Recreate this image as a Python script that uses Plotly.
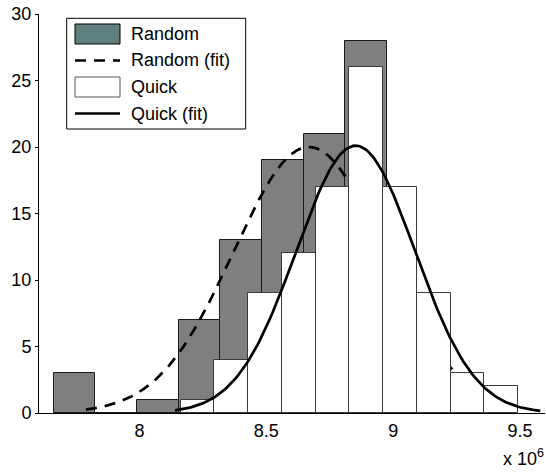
import numpy as np
import plotly.graph_objects as go

# ---- data (x in units of 1e6) ----
random_centers = [7.744, 7.908, 8.072, 8.237, 8.401, 8.565, 8.730, 8.894, 9.058, 9.223]
random_counts = [3, 0, 1, 7, 13, 19, 21, 28, 6, 2]
random_binwidth = 0.1643

quick_centers = [8.229, 8.362, 8.495, 8.628, 8.761, 8.894, 9.027, 9.160, 9.293, 9.426]
quick_counts = [1, 4, 9, 12, 17, 26, 17, 9, 3, 2]
quick_binwidth = 0.1331

# normal fit parameters (mean, sigma, peak height, plotted x-span)
random_fit = dict(mu=8.668, sigma=0.297, peak=20.0, x0=7.789, x1=9.233)
quick_fit = dict(mu=8.852, sigma=0.234, peak=20.1, x0=8.14, x1=9.58)

x_tickvals = [8, 8.5, 9, 9.5]
x_ticktext = ["8", "8.5", "9", "9.5"]
y_tickvals = [0, 5, 10, 15, 20, 25, 30]

legend_labels = ["Random", "Random (fit)", "Quick", "Quick (fit)"]


def fit_curve(p, n=200):
    xs = np.linspace(p["x0"], p["x1"], n)
    ys = p["peak"] * np.exp(-((xs - p["mu"]) ** 2) / (2 * p["sigma"] ** 2))
    return xs, ys


FONT = "Liberation Sans, Arial, Helvetica, sans-serif"
FS = 18
GRAY = "#7f7f7f"
TEAL = "rgb(96,128,125)"

fig = go.Figure()
fig.add_trace(go.Bar(x=random_centers, y=random_counts, width=random_binwidth,
                     marker=dict(color=GRAY, line=dict(color="#1a1a1a", width=1)),
                     name=legend_labels[0], showlegend=False, xaxis="x", yaxis="y"))
rx, ry = fit_curve(random_fit)
fig.add_trace(go.Scatter(x=rx, y=ry, mode="lines", name=legend_labels[1], showlegend=False,
                         line=dict(color="black", width=2.7, dash="11px,8px"),
                         xaxis="x", yaxis="y"))
fig.add_trace(go.Bar(x=quick_centers, y=quick_counts, width=quick_binwidth,
                     marker=dict(color="white", line=dict(color="#3a3a3a", width=1)),
                     name=legend_labels[2], showlegend=False, xaxis="x2", yaxis="y2"))
qx, qy = fit_curve(quick_fit)
fig.add_trace(go.Scatter(x=qx, y=qy, mode="lines", name=legend_labels[3], showlegend=False,
                         line=dict(color="black", width=2.7), xaxis="x2", yaxis="y2"))

# geometry in screen pixels (body margin removed by post_script)
W, H = 546, 472
SX0, SX1, SY0, SY1 = 39, 545, 14, 413
L, T, R, B = SX0, SY0, W - SX1, H - SY1
PW, PH = SX1 - SX0, SY1 - SY0


def px(xs):
    return (xs - SX0) / PW


def py(ys):
    return (SY1 - ys) / PH


shapes = []
annotations = []
shapes.append(dict(type="rect", xref="paper", yref="paper", x0=px(66.7), x1=px(245.7),
                   y0=py(129), y1=py(18.3), line=dict(color="black", width=1),
                   fillcolor="white", layer="above"))
rows = [34, 60.5, 87, 113.5]
shapes.append(dict(type="rect", xref="paper", yref="paper", x0=px(75), x1=px(120),
                   y0=py(44), y1=py(24), line=dict(color="black", width=1),
                   fillcolor=TEAL, layer="above"))
shapes.append(dict(type="line", xref="paper", yref="paper", x0=px(75), x1=px(120),
                   y0=py(rows[1]), y1=py(rows[1]),
                   line=dict(color="black", width=2.7, dash="11px,8px"), layer="above"))
shapes.append(dict(type="rect", xref="paper", yref="paper", x0=px(75), x1=px(120),
                   y0=py(97), y1=py(77), line=dict(color="#555555", width=1),
                   fillcolor="white", layer="above"))
shapes.append(dict(type="line", xref="paper", yref="paper", x0=px(75), x1=px(120),
                   y0=py(rows[3]), y1=py(rows[3]),
                   line=dict(color="black", width=2.7), layer="above"))
for lab, r in zip(legend_labels, rows):
    annotations.append(dict(text=lab, xref="paper", yref="paper", x=px(129), y=py(r),
                            xanchor="left", yanchor="middle", showarrow=False,
                            font=dict(family=FONT, size=FS, color="black")))
annotations.append(dict(text="x 10<sup>6</sup>", xref="paper", yref="paper",
                        x=px(546), y=py(471), xanchor="right", yanchor="bottom",
                        showarrow=False, font=dict(family=FONT, size=FS, color="black")))

axis_common = dict(showgrid=False, zeroline=False)
fig.update_layout(
    width=W, height=H,
    margin=dict(l=L, r=R, t=T, b=B, pad=0),
    paper_bgcolor="white", plot_bgcolor="white",
    barmode="overlay", bargap=0,
    showlegend=False,
    font=dict(family=FONT, size=FS, color="black"),
    xaxis=dict(range=[7.6038, 9.5985], tickvals=x_tickvals, ticktext=x_ticktext,
               ticks="", showline=True, linecolor="black", linewidth=1,
               ticklabelstandoff=1, **axis_common),
    yaxis=dict(range=[0, 30], tickvals=y_tickvals, ticks="outside", ticklen=3,
               tickcolor="black", showline=True, linecolor="black", linewidth=1,
               **axis_common),
    xaxis2=dict(overlaying="x", matches="x", visible=False, **axis_common),
    yaxis2=dict(overlaying="y", matches="y", visible=False, **axis_common),
    shapes=shapes, annotations=annotations,
)

fig.write_html("out.html",
               config=dict(displayModeBar=False),
               post_script="document.body.style.margin='0';document.body.style.padding='0';")
